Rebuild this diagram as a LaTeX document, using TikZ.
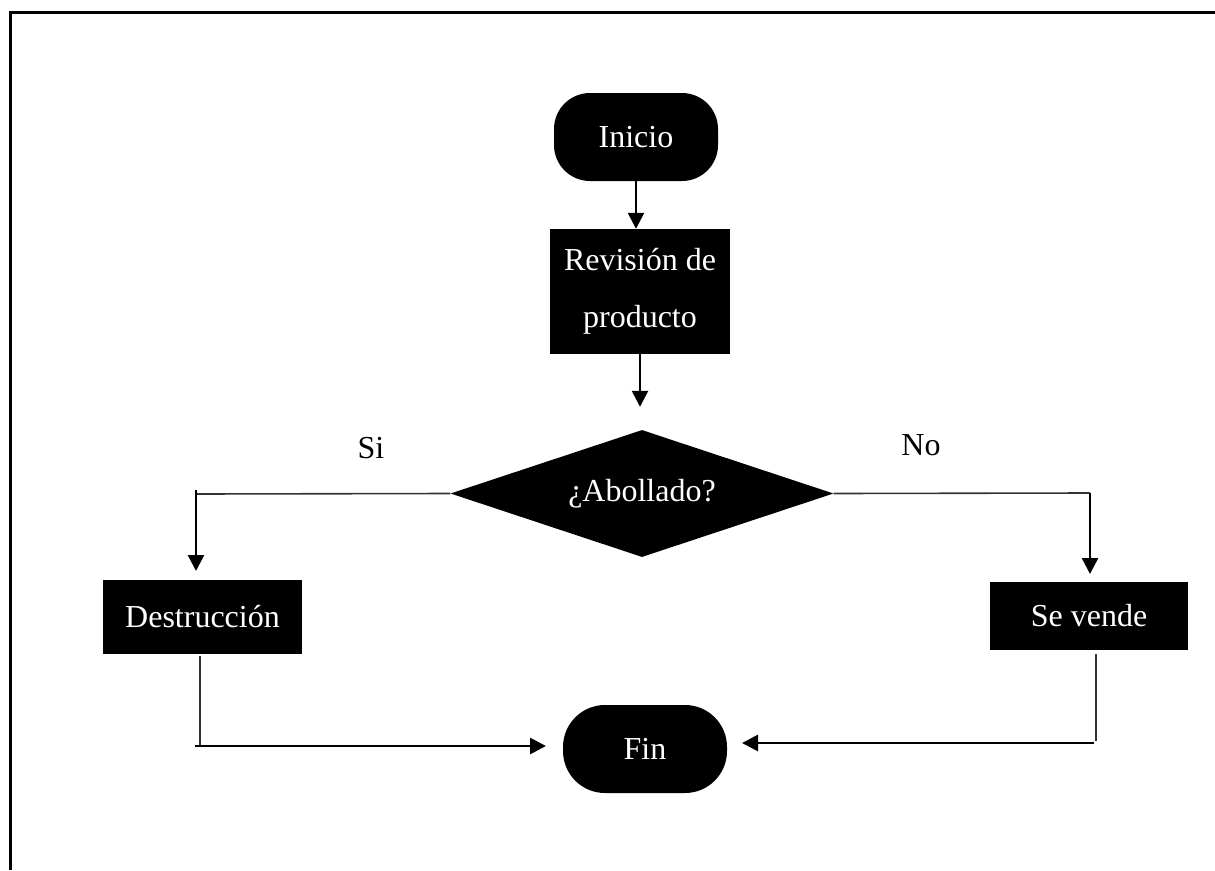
\documentclass[tikz,border=0pt]{standalone}
\usepackage{fontspec}
\setmainfont{Liberation Serif}
\usetikzlibrary{arrows.meta,shapes.geometric}
\begin{document}
\begin{tikzpicture}[x=1pt,y=-1pt,
  txt/.style={font=\fontsize{32}{57}\selectfont},
  blk/.style={txt,fill=black,draw=none,text=white,inner sep=0pt,align=center},
  term/.style={blk,rounded corners=36pt,minimum width=164pt,minimum height=88pt},
  proc/.style={blk,rectangle},
  dec/.style={blk,diamond,aspect=3,minimum width=383pt,minimum height=127pt},
  arr/.style={line width=2.5pt,-{Triangle[length=16pt,width=16pt]}},
  thinln/.style={line width=1.6pt,black!80},
  frame/.style={line width=3pt}]
\useasboundingbox (0,0) rectangle (1215,870);
% frame
\draw[frame] (10,870) -- (10,12) -- (1215,12);
% nodes
\node[term] (ini) at (636,137) {Inicio};
\node[proc,minimum width=180pt,minimum height=125pt] (rev) at (640,291.5) {Revisión de\\producto};
\node[dec] (dia) at (642,493.5) {¿Abollado?};
\node[proc,minimum width=199pt,minimum height=74pt] (des) at (202.5,617) {Destrucción};
\node[proc,minimum width=198pt,minimum height=68pt] (sev) at (1089,616) {Se vende};
\node[term,rounded corners=42pt] (fin) at (645,749) {Fin};
\node[txt] (si) at (371,448) {Si};
\node[txt] (no) at (921,445) {No};
% coordinates
\coordinate (lc) at (196,494);
\coordinate (ltop) at (196,490);
\coordinate (ltip) at (196,571);
\coordinate (rc) at (1090,493);
\coordinate (rtip) at (1090,574);
\coordinate (bl1) at (200,656);
\coordinate (bl2) at (200,745);
\coordinate (bl3) at (195,746);
\coordinate (bltip) at (546,746);
\coordinate (br1) at (1096,654);
\coordinate (br2) at (1096,741);
\coordinate (br3) at (1094,743);
\coordinate (brtip) at (742,743);
% connectors
\draw[arr] (ini.south) -- (ini.south |- rev.north);
\draw[arr,shorten >=23pt] (rev.south) -- (rev.south |- dia.north);
\draw[thinln] (dia.west) -- (lc);
\draw[arr] (ltop) -- (ltip);
\draw[thinln] (dia.east) -- (rc);
\draw[arr] (rc) -- (rtip);
\draw[thinln] (bl1) -- (bl2);
\draw[arr,line width=2.8pt] (bl3) -- (bltip);
\draw[thinln] (br1) -- (br2);
\draw[arr,line width=2.8pt] (br3) -- (brtip);
\end{tikzpicture}
\end{document}
